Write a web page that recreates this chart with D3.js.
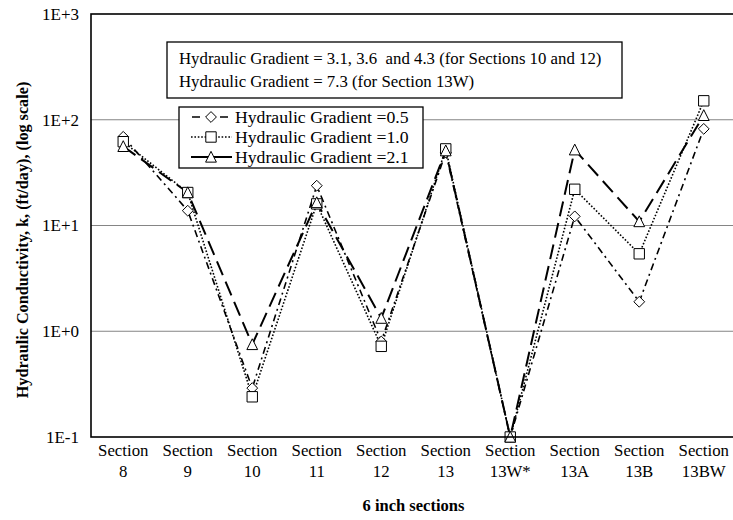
<!DOCTYPE html>
<html><head><meta charset="utf-8">
<script src="https://cdn.jsdelivr.net/npm/d3@7"></script>
<style>body{margin:0;background:#fff}svg{display:block}</style>
</head><body>
<svg id="c" width="733" height="520"></svg>
<script>
const categories = ["Section|8","Section|9","Section|10","Section|11","Section|12","Section|13","Section|13W*","Section|13A","Section|13B","Section|13BW"];
const grad05 = [69, 13.8, 0.29, 23.8, 0.8, 49, 0.1, 12.2, 1.9, 82];
const grad10 = [62, 20.5, 0.24, 16, 0.72, 53, 0.1, 22, 5.4, 151];
const grad21 = [56, 20.5, 0.75, 16.5, 1.33, 51, 0.1, 52, 10.9, 110];
const seriesNames = ["Hydraulic Gradient =0.5","Hydraulic Gradient =1.0","Hydraulic Gradient =2.1"];
const yTicks = [0.1, 1, 10, 100, 1000];
const yTickLabels = ["1E-1","1E+0","1E+1","1E+2","1E+3"];
const noteLines = ["Hydraulic Gradient = 3.1, 3.6\u00a0 and 4.3 (for Sections 10 and 12)","Hydraulic Gradient = 7.3 (for Section 13W)"];

const FONT = "Liberation Serif";
const svg = d3.select("#c");
const L=91, T=14, R=736, B=437;
const x = d3.scaleBand().domain(categories).range([L,R]);
const y = d3.scaleLog().domain([0.1,1000]).range([B,T]);
const cx = c => x(c)+x.bandwidth()/2;

// custom marker shapes
const diamond = {draw(ctx,size){const r=size; ctx.moveTo(0,-r);ctx.lineTo(r,0);ctx.lineTo(0,r);ctx.lineTo(-r,0);ctx.closePath();}};
const square = {draw(ctx,size){const r=size; ctx.rect(-r,-r,2*r,2*r);}};
const triangle = {draw(ctx,size){const r=size; ctx.moveTo(0,-r*1.05);ctx.lineTo(r,r*0.95);ctx.lineTo(-r,r*0.95);ctx.closePath();}};

// gridlines
svg.append("g").selectAll("line").data(yTicks.filter(t=>t>0.1&&t<1000)).join("line")
  .attr("x1",L).attr("x2",R).attr("y1",d=>y(d)).attr("y2",d=>y(d))
  .attr("stroke","#858585").attr("stroke-width",1.2);

// y axis labels
const yAxis = d3.axisLeft(y).tickValues(yTicks).tickSize(0).tickPadding(12)
  .tickFormat(d=>yTickLabels[yTicks.indexOf(d)]);
const ga = svg.append("g").attr("transform",`translate(${L},0)`).call(yAxis)
  .attr("font-family",FONT).attr("font-size",17);
ga.select(".domain").remove();
ga.selectAll("text").attr("fill","#000");

// x axis labels
const xAxis = d3.axisBottom(x).tickSize(0).tickPadding(0).tickFormat("");
const gx = svg.append("g").attr("transform",`translate(0,${B})`).call(xAxis)
  .attr("font-family",FONT).attr("font-size",16.8);
gx.select(".domain").remove();
gx.selectAll(".tick text").remove();
gx.selectAll(".tick").each(function(d){
  const parts = d.split("|");
  const t = d3.select(this).append("text").attr("fill","#000").attr("text-anchor","middle");
  t.append("tspan").attr("x",0).attr("y",19).text(parts[0]);
  t.append("tspan").attr("x",0).attr("y",40).text(parts[1]);
});

// axis titles
svg.append("text").attr("x",(L+R)/2).attr("y",511).attr("text-anchor","middle").attr("font-family",FONT)
  .attr("font-weight","bold").attr("font-size",16.5).text("6 inch sections");
svg.append("text").attr("transform",`translate(28,240) rotate(-90)`).attr("text-anchor","middle").attr("font-family",FONT)
  .attr("font-weight","bold").attr("font-size",16.2).text("Hydraulic Conductivity, k, (ft/day), (log scale)");

// series
const series = [
  {vals:grad05, dash:"7,4,2,4", w:1.6, sym:diamond, size:5.4},
  {vals:grad10, dash:"1.6,1.8", w:1.6, sym:square, size:5.2},
  {vals:grad21, dash:"15,7", w:2, sym:triangle, size:5.4}
];
const line = d3.line().x((d,i)=>cx(categories[i])).y(d=>y(d));
series.forEach(s=>{
  svg.append("path").datum(s.vals).attr("d",line).attr("fill","none")
    .attr("stroke","#000").attr("stroke-width",s.w).attr("stroke-dasharray",s.dash);
});
series.forEach(s=>{
  svg.append("g").selectAll("path").data(s.vals).join("path")
    .attr("transform",(d,i)=>`translate(${cx(categories[i])},${y(d)})`)
    .attr("d",d3.symbol(s.sym,s.size)).attr("fill","#fff").attr("stroke","#000").attr("stroke-width",1);
});

// frame
svg.append("rect").attr("x",L).attr("y",T).attr("width",R-L).attr("height",B-T)
  .attr("fill","none").attr("stroke","#000").attr("stroke-width",1.6);

// note box
svg.append("rect").attr("x",167).attr("y",42).attr("width",455).attr("height",56)
  .attr("fill","#fff").attr("stroke","#000").attr("stroke-width",1.3);
noteLines.forEach((t,i)=>{
  svg.append("text").attr("x",179).attr("y",64+i*23).attr("font-size",16.8).attr("font-family",FONT).text(t);
});

// legend
svg.append("rect").attr("x",179).attr("y",107).attr("width",244).attr("height",61)
  .attr("fill","#fff").attr("stroke","#000").attr("stroke-width",1.3);
series.forEach((s,i)=>{
  const ly = 117+i*20;
  svg.append("line").attr("x1",191).attr("x2",232).attr("y1",ly).attr("y2",ly)
    .attr("stroke","#000").attr("stroke-width",s.w).attr("stroke-dasharray", i===0?"8,6":(i===2?null:s.dash))
    .attr("stroke-dashoffset", i===0?-1:0);
  svg.append("path").attr("transform",`translate(211,${ly})`).attr("d",d3.symbol(s.sym,s.size))
    .attr("fill","#fff").attr("stroke","#000");
  svg.append("text").attr("x",235).attr("y",ly+6).attr("font-size",17.7).attr("font-family",FONT).text(seriesNames[i]);
});
</script>
</body></html>
